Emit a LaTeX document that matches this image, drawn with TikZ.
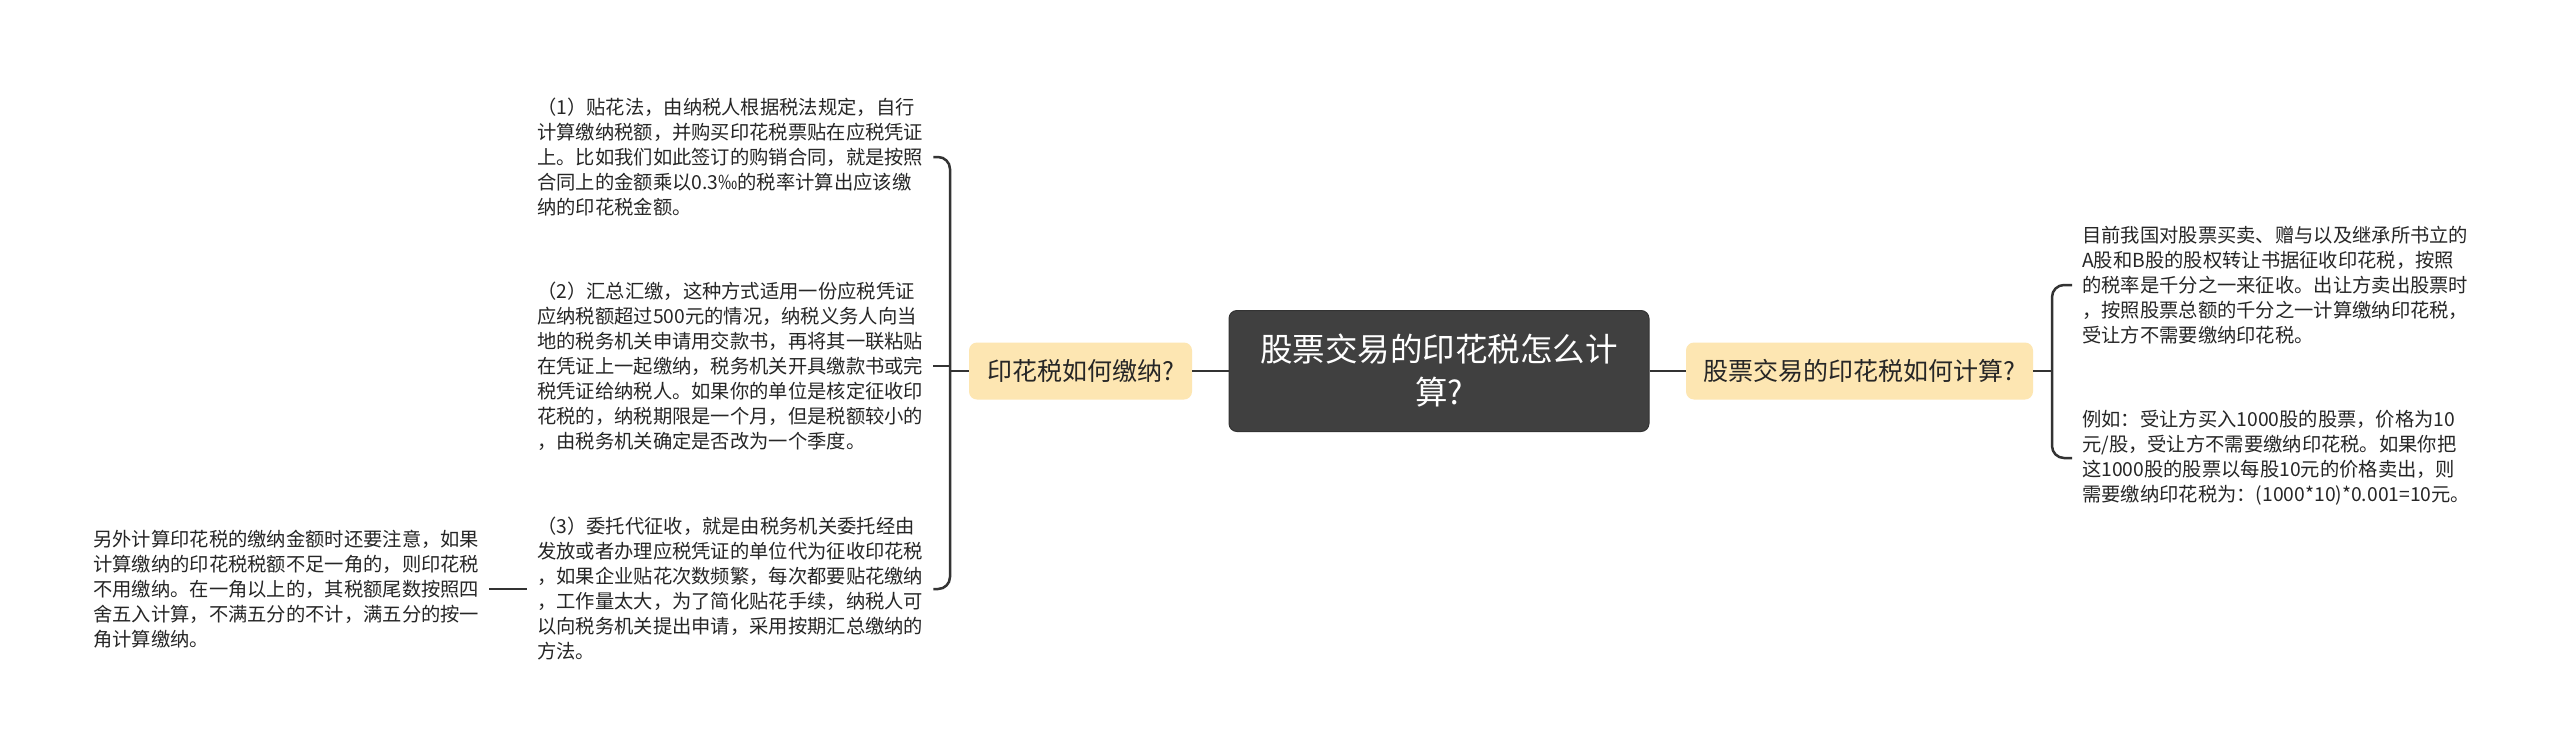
\documentclass[tikz,border=0pt]{standalone}
\usepackage{fontspec}
\setmainfont{Noto Sans CJK SC}
\definecolor{rootfill}{HTML}{404040}
\definecolor{branchfill}{HTML}{FDE6B2}
\definecolor{linecol}{HTML}{333333}
\definecolor{textcol}{HTML}{262626}
\tikzset{
  rootbox/.style={draw=rootfill!80!black, line width=1pt, fill=rootfill, rounded corners=8pt,
    minimum width=420pt, minimum height=121pt, text=white, align=center,
    font=\fontsize{32.5}{43}\selectfont, inner sep=0pt},
  branchbox/.style={fill=branchfill, rounded corners=8pt, minimum height=57pt,
    text=textcol, font=\fontsize{25}{29}\selectfont, inner sep=0pt},
  leaf/.style={text width=386pt, inner xsep=10pt, inner ysep=4pt, align=left,
    text=textcol, font=\fontsize{19.3}{25}\selectfont, anchor=west},
  conn/.style={draw=linecol, line width=2.5pt},
}
\begin{document}
\begin{tikzpicture}[x=1pt,y=-1pt]
\useasboundingbox[fill=white] (0,0) rectangle (2560,755);

\node[rootbox] (root) at (1439,371) {股票交易的印花税怎么计\\算?};
\node[branchbox, minimum width=223pt] (lb) at (1080.5,371) {印花税如何缴纳?};
\node[branchbox, minimum width=347pt] (rb) at (1859.5,371) {股票交易的印花税如何计算?};

\node[leaf] (l1) at (527,157) {（1）贴花法，由纳税人根据税法规定，自行\\计算缴纳税额，并购买印花税票贴在应税凭证\\上。比如我们如此签订的购销合同，就是按照\\合同上的金额乘以0.3‰的税率计算出应该缴\\纳的印花税金额。};
\node[leaf] (l2) at (527,366) {（2）汇总汇缴，这种方式适用一份应税凭证\\应纳税额超过500元的情况，纳税义务人向当\\地的税务机关申请用交款书，再将其一联粘贴\\在凭证上一起缴纳，税务机关开具缴款书或完\\税凭证给纳税人。如果你的单位是核定征收印\\花税的，纳税期限是一个月，但是税额较小的\\，由税务机关确定是否改为一个季度。};
\node[leaf] (l3) at (527,589) {（3）委托代征收，就是由税务机关委托经由\\发放或者办理应税凭证的单位代为征收印花税\\，如果企业贴花次数频繁，每次都要贴花缴纳\\，工作量太大，为了简化贴花手续，纳税人可\\以向税务机关提出申请，采用按期汇总缴纳的\\方法。};
\node[leaf] (fl) at (83,589) {另外计算印花税的缴纳金额时还要注意，如果\\计算缴纳的印花税税额不足一角的，则印花税\\不用缴纳。在一角以上的，其税额尾数按照四\\舍五入计算，不满五分的不计，满五分的按一\\角计算缴纳。};

\node[leaf] (r1) at (2072,285) {目前我国对股票买卖、赠与以及继承所书立的\\A股和B股的股权转让书据征收印花税，按照\\的税率是千分之一来征收。出让方卖出股票时\\，按照股票总额的千分之一计算缴纳印花税，\\受让方不需要缴纳印花税。};
\node[leaf] (r2) at (2072,458) {例如：受让方买入1000股的股票，价格为10\\元/股，受让方不需要缴纳印花税。如果你把\\这1000股的股票以每股10元的价格卖出，则\\需要缴纳印花税为：(1000*10)*0.001=10元。};

\coordinate (ls) at (950,371);
\coordinate (rs) at (2052,371);

\draw[conn] (root.west) -- (lb.east);
\draw[conn] (root.east) -- (rb.west);
\draw[conn] (lb.west) -- (ls);
\draw[conn] (rb.east) -- (rs);
\draw[conn, rounded corners=12pt] (l1.east) -| (ls) |- (l3.east);
\draw[conn] (l2.east) -- (l2.east -| ls);
\draw[conn, rounded corners=12pt] (r1.west) -| (rs) |- (r2.west);
\draw[conn] (fl.east) -- (l3.west);
\end{tikzpicture}
\end{document}
